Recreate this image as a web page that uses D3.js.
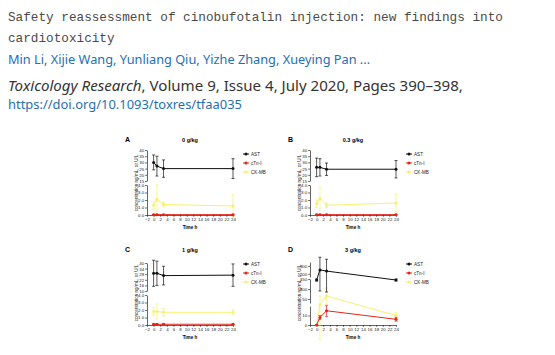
<!DOCTYPE html>
<html><head><meta charset="utf-8">
<script src="https://cdn.jsdelivr.net/npm/d3@7/dist/d3.min.js"></script>
<style>html,body{margin:0;padding:0;background:#fff;}svg{display:block;}</style>
</head><body>
<script>
// ---------- data ----------
const titleLines = ["Safety reassessment of cinobufotalin injection: new findings into", "cardiotoxicity"];
const authors = "Min Li, Xijie Wang, Yunliang Qiu, Yizhe Zhang, Xueying Pan ...";
const journal = "Toxicology Research";
const journalRest = ", Volume 9, Issue 4, July 2020, Pages 390\u2013398,";
const doi = "https://doi.org/10.1093/toxres/tfaa035";

const panelLetters = ["A", "B", "C", "D"];
const doses = ["0 g/kg", "0.3 g/kg", "1 g/kg", "3 g/kg"];
const seriesNames = ["AST", "cTn-I", "CK-MB"];
const times = [0, 1, 3, 24];
const xTicks = [-2, 0, 2, 4, 6, 8, 10, 12, 14, 16, 18, 20, 22, 24];

const astA = [30, 27, 25, 25],   astAErr = [6, 8, 7, 8];
const ctnA = [0.05, 0.05, 0.05, 0.05], ctnAErr = [0.05, 0.05, 0.05, 0.05];
const ckA  = [1.3, 2.1, 1.4, 1.2], ckAErr = [0.5, 2.0, 0.3, 1.5];

const astB = [26, 26, 24.5, 24.5], astBErr = [7.5, 7, 5, 7];
const ctnB = [0.05, 0.05, 0.05, 0.05], ctnBErr = [0.05, 0.05, 0.05, 0.05];
const ckB  = [1.5, 2.2, 1.3, 1.6], ckBErr = [0.5, 1.5, 0.3, 1.2];

const astC = [29, 29, 26.5, 27], astCErr = [14, 13, 10, 12];
const ctnC = [0.1, 0.1, 0.1, 0.1], ctnCErr = [0.05, 0.05, 0.05, 0.05];
const ckC  = [1.8, 1.8, 1.7, 1.7], ckCErr = [0.5, 1.0, 0.5, 0.4];

const astD = [145, 250, 235, 145], astDErr = [5, 160, 150, 5];
const ctnD = [0, 8, 15, 6], ctnDErr = [0.5, 2, 6, 2];
const ckD  = [0, 25, 65, 10], ckDErr = [0.5, 40, 40, 3];

// broken-axis segments (value domains) and tick labels per panel
const yDomainsA = [[0, 4], [15, 40]], yTicksA = [[0, 1, 2, 3, 4], [15, 20, 25, 30, 35, 40]];
const yDomainsB = [[0, 4], [15, 40]], yTicksB = [[0, 1, 2, 3, 4], [15, 20, 25, 30, 35, 40]];
const yDomainsC = [[0, 4], [10, 40]], yTicksC = [[0, 1, 2, 3, 4], [10, 16, 22, 28, 34, 40]];
const yDomainsD = [[0, 20], [30, 150], [160, 350]], yTicksD = [[0, 10], [50, 100, 150], [200, 300]];

const panelData = [
  {ast: astA, astErr: astAErr, ctn: ctnA, ctnErr: ctnAErr, ck: ckA, ckErr: ckAErr, doms: yDomainsA, ticks: yTicksA},
  {ast: astB, astErr: astBErr, ctn: ctnB, ctnErr: ctnBErr, ck: ckB, ckErr: ckBErr, doms: yDomainsB, ticks: yTicksB},
  {ast: astC, astErr: astCErr, ctn: ctnC, ctnErr: ctnCErr, ck: ckC, ckErr: ckCErr, doms: yDomainsC, ticks: yTicksC},
  {ast: astD, astErr: astDErr, ctn: ctnD, ctnErr: ctnDErr, ck: ckD, ckErr: ckDErr, doms: yDomainsD, ticks: yTicksD}
];

// ---------- layout ----------
const W = 555, H = 355;
const colors = {"AST": "#111111", "cTn-I": "#e3241b", "CK-MB": "#f7f06e"};
const offsets = [[0, 0], [163, 0], [0, 110], [163, 110]];
// pixel ranges (relative to panel top y=150) for each segment, bottom->top
const segPix = [
  [[65, 35], [31, 0]],
  [[65, 35], [31, 0]],
  [[65, 35], [31, 3]],
  [[65, 46], [43, 19], [17, 2]]
];
const axX0 = 147, axX1 = 233, top0 = 150;
const figFont = "'Liberation Sans', Arial, sans-serif";

const svg = d3.select("body").append("svg").attr("width", W).attr("height", H);
svg.append("rect").attr("width", W).attr("height", H).attr("fill", "#fff");

// ---------- header ----------
function fitText(sel, target) {
  const len = sel.node().getComputedTextLength();
  const fs = parseFloat(sel.attr("font-size"));
  sel.attr("font-size", (fs * target / len).toFixed(2));
}
const hdr = svg.append("g");
titleLines.forEach((t, i) => {
  hdr.append("text").attr("x", 8).attr("y", i === 0 ? 20.5 : 41.5)
    .attr("font-family", "'Liberation Mono', monospace").attr("font-size", 12.7)
    .attr("fill", "#4a4a4a").text(t);
});
fitText(hdr.select("text"), 495);
hdr.selectAll("text").attr("font-size", hdr.select("text").attr("font-size"));

const au = hdr.append("text").attr("x", 8).attr("y", 64).attr("font-family", "'Noto Sans', sans-serif")
  .attr("font-size", 14).attr("fill", "#1f6fb2").text(authors);
fitText(au, 362);
const jr = hdr.append("text").attr("x", 8).attr("y", 90.5).attr("font-family", "'Noto Sans', sans-serif")
  .attr("font-size", 14).attr("fill", "#333");
jr.append("tspan").attr("font-style", "italic").text(journal);
jr.append("tspan").text(journalRest);
fitText(jr, 455);
const dl = hdr.append("text").attr("x", 8).attr("y", 109).attr("font-family", "'Noto Sans', sans-serif")
  .attr("font-size", 14).attr("fill", "#1f6fb2").text(doi);
fitText(dl, 234);

// ---------- panels ----------
panelData.forEach((pd, pi) => {
  const [dx, dy] = offsets[pi];
  const g = svg.append("g").attr("font-family", figFont);
  const x = d3.scaleLinear().domain([-2, 24]).range([axX0 + dx, axX1 + dx]);
  const pix = segPix[pi].map(r => r.map(v => top0 + dy + v));
  // polylinear broken-axis scale
  const y = d3.scaleLinear().domain(pd.doms.flat()).range(pix.flat());
  const bottom = pix[0][0];

  // y axis segments
  pd.doms.forEach((dom, si) => {
    const ys = d3.scaleLinear().domain(dom).range(pix[si]);
    const ax = g.append("g").attr("transform", `translate(${axX0 + dx},0)`)
      .call(d3.axisLeft(ys).tickValues(pd.ticks[si]).tickSize(1.8).tickPadding(1).tickSizeOuter(0));
    ax.selectAll("text").attr("font-size", 4.4).attr("fill", "#222");
    ax.selectAll("line,path").attr("stroke", "#222").attr("stroke-width", 0.7);
  });
  // x axis
  const xa = g.append("g").attr("transform", `translate(0,${bottom})`)
    .call(d3.axisBottom(x).tickValues(xTicks).tickSize(1.8).tickPadding(1).tickSizeOuter(0));
  xa.selectAll("text").attr("font-size", 4.4).attr("fill", "#222");
  xa.selectAll("line,path").attr("stroke", "#222").attr("stroke-width", 0.7);

  // labels
  g.append("text").attr("x", 125 + dx).attr("y", 142 + dy).attr("font-size", 7).attr("font-weight", "bold").text(panelLetters[pi]);
  g.append("text").attr("x", 190 + dx).attr("y", 142 + dy).attr("text-anchor", "middle").attr("font-size", 5.5)
    .attr("font-weight", "bold").text(doses[pi]);
  g.append("text").attr("x", 190 + dx).attr("y", 229 + dy).attr("text-anchor", "middle").attr("font-size", 4.6)
    .attr("font-weight", "bold").text("Time h");
  g.append("text").attr("transform", `translate(${137.5 + dx},${183 + dy}) rotate(-90)`).attr("text-anchor", "middle")
    .attr("font-size", 4.6).attr("fill", "#222").text("concentration ng/mL, or U/L");

  const series = [
    {name: "CK-MB", v: pd.ck, e: pd.ckErr},
    {name: "AST", v: pd.ast, e: pd.astErr},
    {name: "cTn-I", v: pd.ctn, e: pd.ctnErr}
  ];
  series.forEach(s => {
    const c = colors[s.name];
    const pts = times.map((t, i) => ({t, v: s.v[i], e: s.e[i]}));
    g.append("path").datum(pts).attr("fill", "none").attr("stroke", c).attr("stroke-width", 1)
      .attr("d", d3.line().x(d => x(d.t)).y(d => y(d.v)));
    const eb = g.append("g").attr("stroke", c).attr("stroke-width", 0.7);
    pts.forEach(d => {
      const y1 = y(d.v + d.e), y2 = y(d.v - d.e), xc = x(d.t);
      eb.append("line").attr("x1", xc).attr("x2", xc).attr("y1", y1).attr("y2", y2);
      eb.append("line").attr("x1", xc - 1.5).attr("x2", xc + 1.5).attr("y1", y1).attr("y2", y1);
      eb.append("line").attr("x1", xc - 1.5).attr("x2", xc + 1.5).attr("y1", y2).attr("y2", y2);
    });
    g.append("g").selectAll("circle").data(pts).join("circle")
      .attr("cx", d => x(d.t)).attr("cy", d => y(d.v)).attr("r", 1.5).attr("fill", c);
  });

  // legend
  seriesNames.forEach((n, i) => {
    const ly = 154 + dy + i * 9;
    g.append("line").attr("x1", 243 + dx).attr("x2", 249 + dx).attr("y1", ly).attr("y2", ly)
      .attr("stroke", colors[n]).attr("stroke-width", 1);
    g.append("circle").attr("cx", 246 + dx).attr("cy", ly).attr("r", 1.5).attr("fill", colors[n]);
    g.append("text").attr("x", 251 + dx).attr("y", ly + 1.6).attr("font-size", 4.6).attr("fill", "#222").text(n);
  });
});
</script>
</body></html>
